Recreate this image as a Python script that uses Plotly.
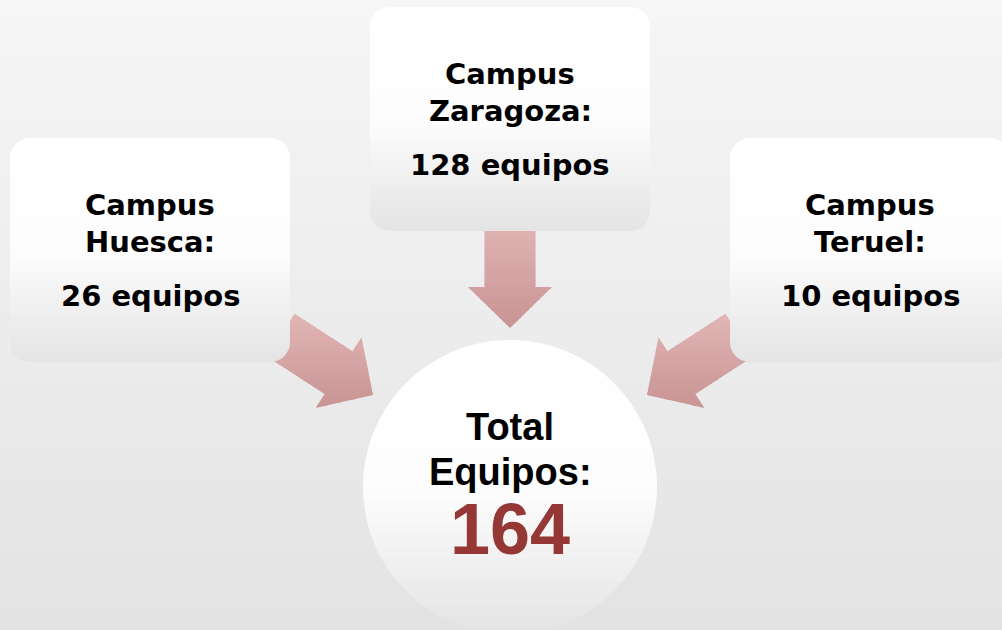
import math
import plotly.graph_objects as go

# data
campuses = ["Huesca", "Zaragoza", "Teruel"]
equipos = [26, 128, 10]
total = sum(equipos)

W, H = 1002, 630

# layout of the diagram (pixel coords, y down)
box_pos = {"Huesca": (10, 138), "Zaragoza": (370, 7), "Teruel": (730, 138)}
BOX_W, BOX_H, RAD = 280, 224, 20
CIRC_C, CIRC_R = (510, 487), 147

BG_STOPS = [(0, "#f6f6f6"), (1, "#e3e3e3")]
BOX_STOPS = [(0, "#ffffff"), (0.5, "#fdfdfd"), (1, "#e4e4e4")]
ARROW_STOPS = [(0, "#e2b6b6"), (1, "#c89393")]


def hex_rgb(h):
    h = h.lstrip("#")
    return [int(h[i:i + 2], 16) for i in (0, 2, 4)]


def grad(stops, t):
    t = min(max(t, 0), 1)
    for (t0, c0), (t1, c1) in zip(stops, stops[1:]):
        if t <= t1:
            f = 0 if t1 == t0 else (t - t0) / (t1 - t0)
            a, b = hex_rgb(c0), hex_rgb(c1)
            return "rgb(%d,%d,%d)" % tuple(round(a[i] + (b[i] - a[i]) * f) for i in range(3))
    return stops[-1][1]


def clip_half(poly, y, keep_above):
    out = []
    n = len(poly)
    for i in range(n):
        p, q = poly[i], poly[(i + 1) % n]
        pin = p[1] >= y if keep_above else p[1] <= y
        qin = q[1] >= y if keep_above else q[1] <= y
        if pin:
            out.append(p)
        if pin != qin:
            f = (y - p[1]) / (q[1] - p[1])
            out.append((p[0] + (q[0] - p[0]) * f, y))
    return out


def path_of(poly):
    return "M " + " L ".join(f"{x:.2f},{y:.2f}" for x, y in poly) + " Z"


def gradient_shapes(poly, stops, nb=40):
    ys = [p[1] for p in poly]
    y0, y1 = min(ys), max(ys)
    shapes = []
    step = (y1 - y0) / nb
    for k in range(nb):
        a = y0 + k * step
        b = a + step + 1.0
        c = clip_half(clip_half(poly, a, True), b, False)
        if len(c) >= 3:
            shapes.append(dict(type="path", path=path_of(c), fillcolor=grad(stops, (k + 0.5) / nb),
                               line=dict(width=0), layer="above"))
    return shapes


def rounded_rect(x, y, w, h, r, n=8):
    pts = []
    corners = [(x + w - r, y + r, -90), (x + w - r, y + h - r, 0),
               (x + r, y + h - r, 90), (x + r, y + r, 180)]
    for cx, cy, a0 in corners:
        for i in range(n + 1):
            a = math.radians(a0 + 90 * i / n)
            pts.append((cx + r * math.cos(a), cy + r * math.sin(a)))
    return pts


def circle(cx, cy, r, n=120):
    return [(cx + r * math.cos(2 * math.pi * i / n), cy + r * math.sin(2 * math.pi * i / n))
            for i in range(n)]


def arrow(tip, ang_deg, length=110, shaft=51, head_w=84, head_l=41):
    a = math.radians(ang_deg)
    u = (math.cos(a), math.sin(a))
    nrm = (-u[1], u[0])

    def pt(s, t):
        return (tip[0] - u[0] * s + nrm[0] * t, tip[1] - u[1] * s + nrm[1] * t)

    return [pt(0, 0), pt(head_l, head_w / 2), pt(head_l, shaft / 2), pt(length, shaft / 2),
            pt(length, -shaft / 2), pt(head_l, -shaft / 2), pt(head_l, -head_w / 2)]


shapes = []
# background
nb = 63
for k in range(nb):
    shapes.append(dict(type="rect", x0=0, x1=W, y0=k * H / nb, y1=(k + 1) * H / nb + 1,
                       fillcolor=grad(BG_STOPS, (k + 0.5) / nb), line=dict(width=0),
                       layer="below"))

# arrows (under the boxes)
for tip, ang in [((373, 395), 33), ((510, 328), 90), ((647, 395), 147)]:
    shapes += gradient_shapes(arrow(tip, ang), ARROW_STOPS, nb=30)

# boxes
for name in campuses:
    bx, by = box_pos[name]
    shapes += gradient_shapes(rounded_rect(bx, by, BOX_W, BOX_H, RAD), BOX_STOPS, nb=45)

# circle
cx, cy = CIRC_C
shapes += gradient_shapes(circle(cx, cy, CIRC_R), BOX_STOPS, nb=50)

# font: family, ascent, descent (em) so lines can be placed by their baseline
BOX_FONT = ("'DejaVu Sans', Arial, sans-serif", 0.928, 0.236)
CIRC_FONT = ("'Liberation Sans', Arial, sans-serif", 0.905, 0.212)


def label(x, baseline, text, size, font, color="#000000"):
    fam, asc, desc = font
    return dict(x=x, y=baseline - (asc - desc) * size / 2, text=text, showarrow=False,
                xanchor="center", yanchor="middle",
                font=dict(family=fam, size=size, color=color, weight=700))


annotations = []
for name, n in zip(campuses, equipos):
    bx, by = box_pos[name]
    xc = bx + BOX_W / 2
    annotations.append(label(xc, by + 77, "Campus", 29, BOX_FONT))
    annotations.append(label(xc, by + 114.5, name + ":", 29, BOX_FONT))
    annotations.append(label(xc, by + 168.5, f"{n} equipos", 29, BOX_FONT))

annotations.append(label(cx, 440, "Total", 38, CIRC_FONT))
annotations.append(label(cx, 485, "Equipos:", 38, CIRC_FONT))
annotations.append(label(cx, 554, str(total), 72, CIRC_FONT, color="#953735"))

fig = go.Figure()
fig.update_layout(
    width=W, height=H,
    margin=dict(l=0, r=0, t=0, b=0),
    paper_bgcolor="#eeeeee",
    plot_bgcolor="rgba(0,0,0,0)",
    xaxis=dict(range=[0, W], visible=False, fixedrange=True),
    yaxis=dict(range=[H, 0], visible=False, fixedrange=True),
    shapes=shapes,
    annotations=annotations,
    showlegend=False,
)
fig.write_html("out.html", config={"displayModeBar": False})

# drop the browser's default page margin so the figure sits at the corner
with open("out.html", encoding="utf-8") as f:
    html = f.read()
html = html.replace("<body>", '<body style="margin:0;overflow:hidden">', 1)
with open("out.html", "w", encoding="utf-8") as f:
    f.write(html)
